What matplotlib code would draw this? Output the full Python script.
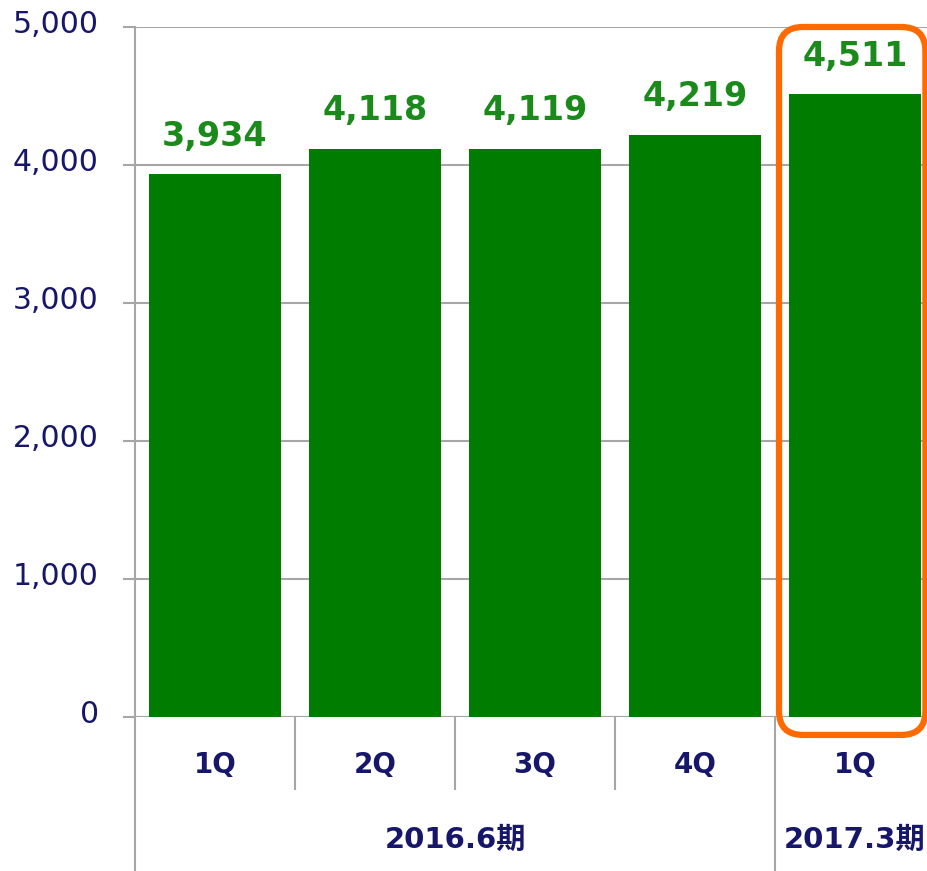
import matplotlib
matplotlib.use("Agg")
import matplotlib.pyplot as plt
import matplotlib.transforms as mtransforms
from matplotlib.patches import FancyBboxPatch
from matplotlib.lines import Line2D

plt.rcParams['font.family'] = ['DejaVu Sans', 'Noto Sans CJK JP']

quarters = ["1Q", "2Q", "3Q", "4Q", "1Q"]
values = [3934, 4118, 4119, 4219, 4511]
value_labels = ["3,934", "4,118", "4,119", "4,219", "4,511"]
periods = ["2016.6期", "2017.3期"]
period_sizes = [4, 1]
yticks = [0, 1000, 2000, 3000, 4000, 5000]
ytick_labels = ["0", "1,000", "2,000", "3,000", "4,000", "5,000"]

W, H = 928, 871
dpi = 100
fig = plt.figure(figsize=(W / dpi, H / dpi), dpi=dpi)
fig.patch.set_facecolor("white")

ax_left, ax_right, ax_top, ax_bot = 135, 935, 27, 717
ax = fig.add_axes([ax_left / W, (H - ax_bot) / H, (ax_right - ax_left) / W, (ax_bot - ax_top) / H])

bar_color = "#007d00"
label_green = "#1a8a1a"
navy = "#16166a"
grid_gray = "#a6a6a6"

x = list(range(len(values)))
ax.bar(x, values, width=0.83, color=bar_color, zorder=3)
ax.set_xlim(-0.5, len(values) - 0.5)
ax.set_ylim(0, 5000)

for xi, v, lab in zip(x, values, value_labels):
    ax.annotate(lab, (xi, v), xytext=(0, 20.5), textcoords="offset points",
                ha="center", va="baseline", color=label_green, fontsize=24,
                fontweight="bold", zorder=4)

ax.set_yticks(yticks)
ax.set_yticklabels(ytick_labels)
ax.tick_params(axis="y", length=9, width=1.5, color=grid_gray, pad=17,
               labelsize=21.5, labelcolor=navy)
ax.tick_params(axis="x", length=0, labelbottom=False)
off = mtransforms.ScaledTranslation(0, 4 / 72, fig.dpi_scale_trans)
for lbl in ax.get_yticklabels():
    lbl.set_transform(lbl.get_transform() + off)

ax.yaxis.grid(True, color=grid_gray, linewidth=1.5, zorder=0)
ax.set_axisbelow(True)
for s in ["top", "right", "left", "bottom"]:
    ax.spines[s].set_visible(False)

# baseline at zero
ax.axhline(0, color=grid_gray, linewidth=1.5, zorder=2)

# left spine, extended downward
fig.add_artist(Line2D([ax_left / W, ax_left / W], [(H - ax_top) / H, 0],
                      color=grid_gray, linewidth=1.5))

# quarter separators and labels
sep_short = 789
for i in range(1, len(values)):
    xp = ax_left + i * (ax_right - ax_left) / len(values)
    if i == period_sizes[0]:
        y_end = 0
    else:
        y_end = (H - sep_short) / H
    fig.add_artist(Line2D([xp / W, xp / W], [(H - ax_bot) / H, y_end],
                          color=grid_gray, linewidth=1.5))

blend = mtransforms.blended_transform_factory(ax.transData, fig.transFigure)
for xi, q in zip(x, quarters):
    ax.text(xi, (H - 765) / H, q, transform=blend,
            ha="center", va="center", fontsize=20, fontweight="bold", color=navy)

start = 0
for p, n in zip(periods, period_sizes):
    center = start + (n - 1) / 2
    ax.text(center, (H - 840) / H, p, transform=blend,
            ha="center", va="center", fontsize=21, fontweight="bold", color=navy)
    start += n

# orange highlight box (in pixel coordinates derived from data)
fig.canvas.draw()
hl = len(values) - 1
p0 = ax.transData.transform((hl - 0.475, -130))
p1 = ax.transData.transform((hl + 0.44, 5000))
box = FancyBboxPatch((p0[0] + 20, p0[1] + 20), p1[0] - p0[0] - 40, p1[1] - p0[1] - 40,
                     boxstyle="round,pad=20,rounding_size=24",
                     transform=None, fill=False, edgecolor="#ff6a00",
                     linewidth=4.5, zorder=10, clip_on=False)
fig.add_artist(box)

fig.savefig("out.png", dpi=dpi, facecolor="white")
